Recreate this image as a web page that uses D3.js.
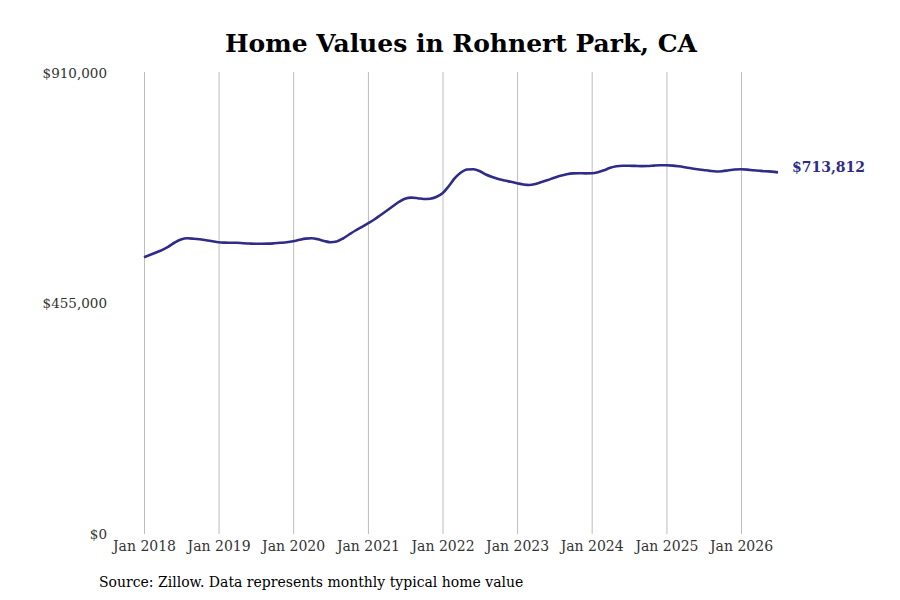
<!DOCTYPE html>
<html>
<head>
<meta charset="utf-8">
<script src="https://cdn.jsdelivr.net/npm/d3@7"></script>
<style>
  body { margin: 0; background: #fff; }
  text { font-family: "DejaVu Serif", serif; }
</style>
</head>
<body>
<script>
// SVG size
const w = 900;
const h = 600;

// Data: monthly typical home value, Jan 2018 - Jul 2026
const startYear = 2018;
const startMonth = 0;
const values = [
  546200, 551100, 555700, 561000, 567500, 575400, 581300, 583700, 582900, 581700, 580000, 577800,
  575800, 575200, 575000, 574800, 574000, 573300, 572900, 572900, 573100, 573800, 574800, 576000,
  578000, 580800, 583100, 583700, 581900, 578400, 576000, 577400, 583300, 591200, 599100, 606000,
  613300, 620800, 628700, 637600, 646500, 655400, 661900, 663900, 662900, 661300, 661900, 665200,
  672500, 687000, 701800, 713600, 719500, 719900, 716600, 709700, 704700, 700800, 697800, 695200,
  692500, 689900, 688900, 690900, 694800, 698800, 703100, 707100, 710100, 711800, 712200, 711800,
  712000, 714000, 717900, 722900, 725800, 726800, 727000, 726600, 726200, 726400, 727200, 727800,
  728000, 727200, 725800, 723900, 721900, 720100, 718500, 716800, 715600, 716200, 717900, 719500,
  719900, 719300, 718100, 717000, 716000, 715400, 713812
];

const yTicks = [0, 455000, 910000];
const xTickYears = [2018, 2019, 2020, 2021, 2022, 2023, 2024, 2025, 2026];

const title = "Home Values in Rohnert Park, CA";
const source = "Source: Zillow. Data represents monthly typical home value";

const data = values.map((v, i) => ({
  date: new Date(startYear, startMonth + i, 1),
  value: v
}));

const lineColor = "#2f2c88";

// Scales
const xScale = d3.scaleTime()
  .domain(d3.extent(data, d => d.date))
  .range([144, 778]);

const yScale = d3.scaleLinear()
  .domain([0, 910000])
  .range([534, 73]);

const svg = d3.select("body")
  .append("svg")
  .attr("width", w)
  .attr("height", h);

// Title
svg.append("text")
  .attr("x", 461)
  .attr("y", 52)
  .attr("text-anchor", "middle")
  .attr("font-size", 25)
  .attr("font-weight", "bold")
  .attr("fill", "#000")
  .text(title);

// Vertical gridlines + bottom labels
const xTicks = xTickYears.map(y => new Date(y, 0, 1));
const bottomAxis = d3.axisBottom(xScale)
  .tickValues(xTicks)
  .tickSize(-(534 - 72))
  .tickPadding(7)
  .tickFormat(d3.timeFormat("Jan %Y"));

const gx = svg.append("g")
  .attr("transform", "translate(0, 534)")
  .call(bottomAxis);
gx.select(".domain").remove();
gx.selectAll(".tick line").attr("stroke", "#bdbdbd").attr("stroke-width", 1);
gx.selectAll(".tick text")
  .attr("font-family", "DejaVu Serif")
  .attr("font-size", 14)
  .attr("fill", "#333");

// Left labels
const leftAxis = d3.axisLeft(yScale)
  .tickValues(yTicks)
  .tickSize(0)
  .tickPadding(0)
  .tickFormat(d => "$" + d3.format(",")(d));

const gy = svg.append("g")
  .attr("transform", "translate(107, 0)")
  .call(leftAxis);
gy.select(".domain").remove();
gy.selectAll(".tick text")
  .attr("font-family", "DejaVu Serif")
  .attr("font-size", 13.5)
  .attr("fill", "#333");

// Line
const line = d3.line()
  .x(d => xScale(d.date))
  .y(d => yScale(d.value))
  .curve(d3.curveMonotoneX);

svg.append("path")
  .datum(data)
  .attr("fill", "none")
  .attr("stroke", lineColor)
  .attr("stroke-width", 2.6)
  .attr("stroke-linejoin", "round")
  .attr("d", line);

// End label
const last = data[data.length - 1];
svg.append("text")
  .attr("x", xScale(last.date) + 14)
  .attr("y", yScale(last.value) - 5)
  .attr("dy", "0.35em")
  .attr("font-size", 14)
  .attr("font-weight", "bold")
  .attr("fill", lineColor)
  .text("$" + d3.format(",")(last.value));

// Source
svg.append("text")
  .attr("x", 99)
  .attr("y", 587)
  .attr("font-family", "DejaVu Serif")
  .attr("font-size", 14)
  .attr("fill", "#000")
  .text(source);
</script>
</body>
</html>
